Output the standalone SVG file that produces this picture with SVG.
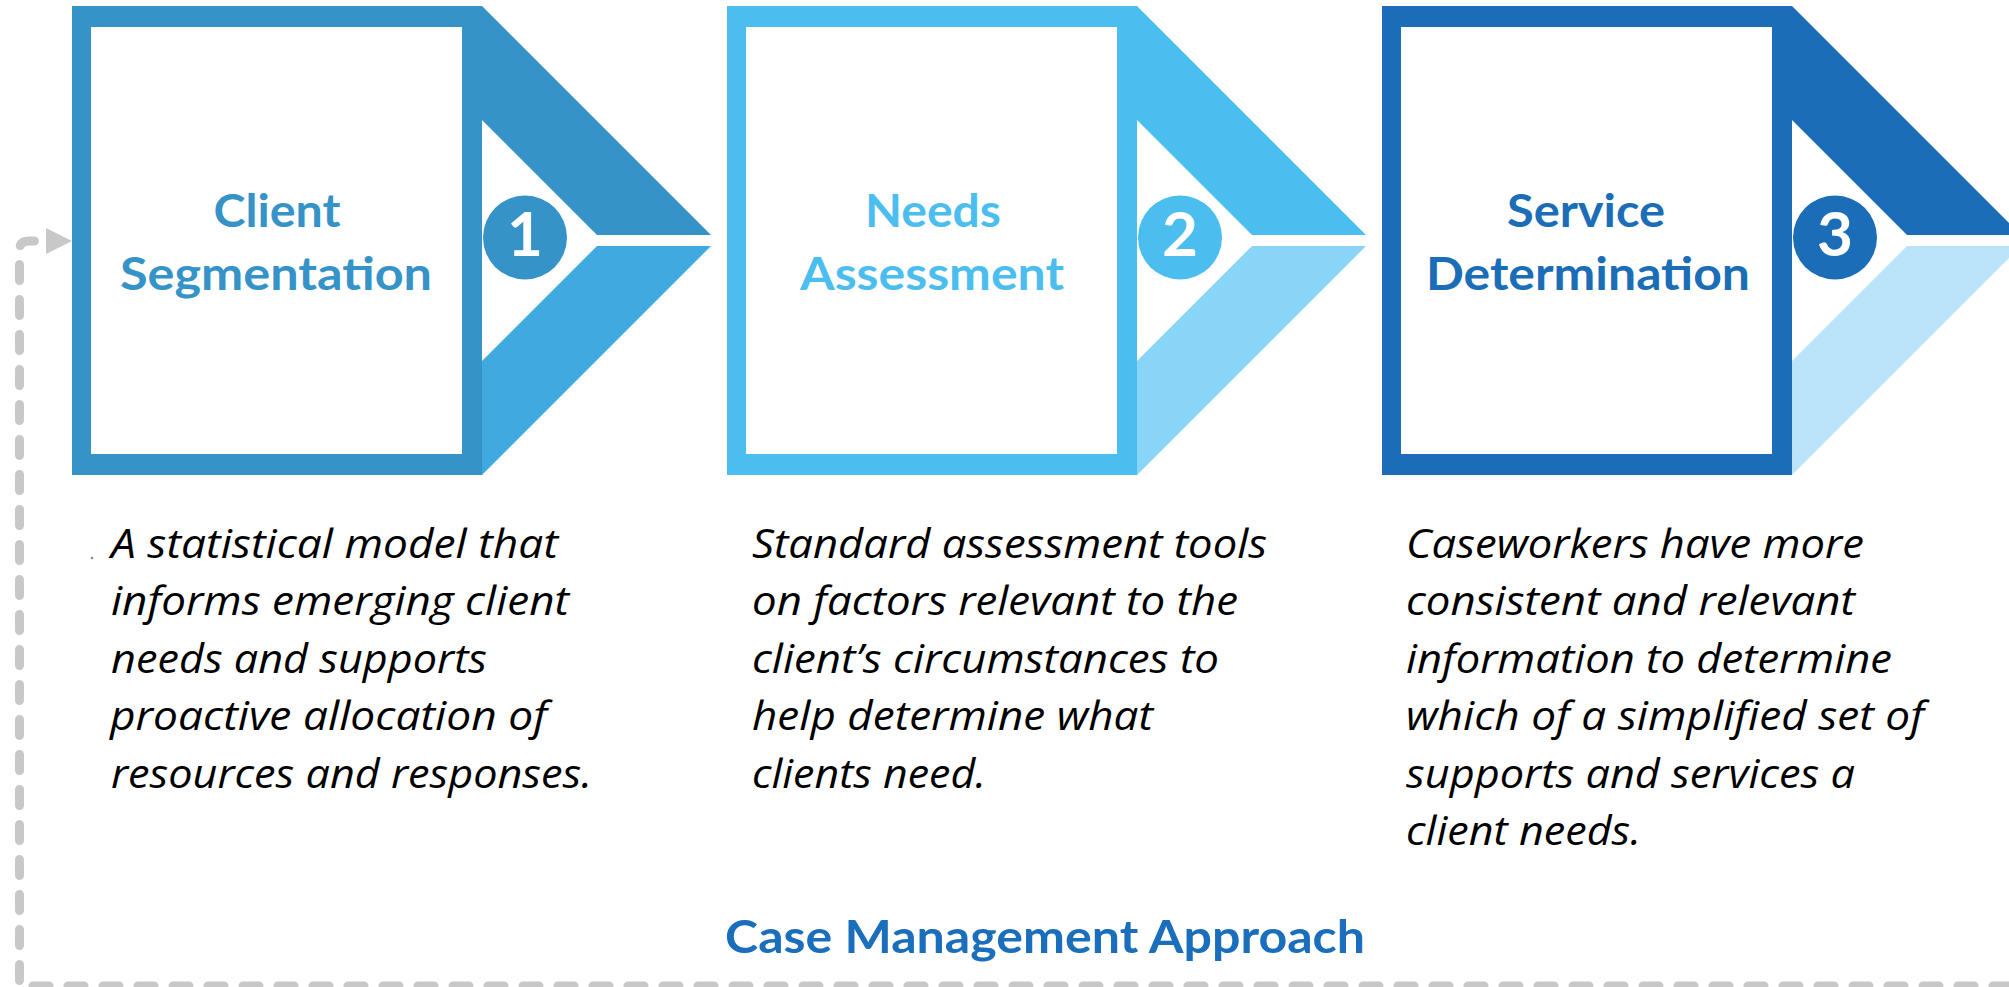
<svg xmlns="http://www.w3.org/2000/svg" width="2009" height="987" viewBox="0 0 2009 987">
  <style>
    .frame-white { fill: #ffffff; }
    .step-title { font-family: Lato, "Open Sans", "Liberation Sans", sans-serif; font-weight: 700; font-size: 45px; text-anchor: middle; }
    .num { font-family: Lato, "Open Sans", "Liberation Sans", sans-serif; font-weight: 700; font-size: 62px; fill: #ffffff; text-anchor: middle; }
    .desc { font-family: "Open Sans", "Noto Sans", "Liberation Sans", sans-serif; font-style: italic; font-size: 40px; fill: #000000; }
    .heading { font-family: Lato, "Open Sans", "Liberation Sans", sans-serif; font-weight: 700; font-size: 46px; fill: #1a6ebb; }
    .loop { fill: none; stroke: #c8c8c8; stroke-width: 9; stroke-linecap: round; stroke-linejoin: round; stroke-dasharray: 16 19; }
    .s1 { fill: #3593c8; }
    .s1-light { fill: #40a9df; }
    .s2 { fill: #4bbeef; }
    .s2-light { fill: #88d5f8; }
    .s3 { fill: #1b6db7; }
    .s3-light { fill: #b9e4fa; }
  </style>
  <defs>
    <marker id="arrow" viewBox="0 0 26 26" markerWidth="26" markerHeight="26" markerUnits="userSpaceOnUse" refX="0" refY="13" orient="auto">
      <path d="M0,0 L26,13 L0,26 Z" fill="#c8c8c8"/>
    </marker>
    <!-- chevron halves, drawn from the box's right edge (x = 0) -->
    <path id="chev-top" d="M0,6 L229,235 L115,235 L0,120 Z"/>
    <path id="chev-bottom" d="M115,246 L229,246 L0,475 L0,361 Z"/>
  </defs>

  <rect width="2009" height="987" fill="#ffffff"/>

  <!-- feedback loop back to the first step -->
  <g id="connectors">
    <path class="loop" d="M2009,986 H19.5 V250 Q19.5,241 28.5,241 H46" marker-end="url(#arrow)"/>
  </g>

  <!-- step 1 -->
  <g id="step-client-segmentation">
    <rect class="s1" x="72" y="6" width="410" height="469"/>
    <rect class="frame-white" x="91" y="27" width="371" height="427"/>
    <use href="#chev-top" class="s1" x="482"/>
    <use href="#chev-bottom" class="s1-light" x="482"/>
    <circle class="s1" cx="525" cy="237.5" r="42"/>
    <text class="num" x="525" y="256">1</text>
    <text class="step-title s1" x="277" y="227" textLength="127" lengthAdjust="spacingAndGlyphs">Client</text>
    <text class="step-title s1" x="276" y="290" textLength="312" lengthAdjust="spacingAndGlyphs">Segmentation</text>
    <circle cx="92" cy="558" r="1.3" fill="#8a8a8a"/>
    <text class="desc" x="111" y="558" textLength="447" lengthAdjust="spacingAndGlyphs">A statistical model that</text>
    <text class="desc" x="111" y="615" textLength="458" lengthAdjust="spacingAndGlyphs">informs emerging client</text>
    <text class="desc" x="111" y="673" textLength="376" lengthAdjust="spacingAndGlyphs">needs and supports</text>
    <text class="desc" x="110" y="730" textLength="437" lengthAdjust="spacingAndGlyphs">proactive allocation of</text>
    <text class="desc" x="111" y="788" textLength="481" lengthAdjust="spacingAndGlyphs">resources and responses.</text>
  </g>

  <!-- step 2 -->
  <g id="step-needs-assessment">
    <rect class="s2" x="727" y="6" width="410" height="469"/>
    <rect class="frame-white" x="746" y="27" width="371" height="427"/>
    <use href="#chev-top" class="s2" x="1137"/>
    <use href="#chev-bottom" class="s2-light" x="1137"/>
    <circle class="s2" cx="1180" cy="237.5" r="42"/>
    <text class="num" x="1180" y="256">2</text>
    <text class="step-title s2" x="933" y="227" textLength="136" lengthAdjust="spacingAndGlyphs">Needs</text>
    <text class="step-title s2" x="932" y="290" textLength="264" lengthAdjust="spacingAndGlyphs">Assessment</text>
    <text class="desc" x="752" y="558" textLength="515" lengthAdjust="spacingAndGlyphs">Standard assessment tools</text>
    <text class="desc" x="752" y="615" textLength="486" lengthAdjust="spacingAndGlyphs">on factors relevant to the</text>
    <text class="desc" x="752" y="673" textLength="467" lengthAdjust="spacingAndGlyphs">client’s circumstances to</text>
    <text class="desc" x="752" y="730" textLength="401" lengthAdjust="spacingAndGlyphs">help determine what</text>
    <text class="desc" x="752" y="788" textLength="234" lengthAdjust="spacingAndGlyphs">clients need.</text>
  </g>

  <!-- step 3 -->
  <g id="step-service-determination">
    <rect class="s3" x="1382" y="6" width="410" height="469"/>
    <rect class="frame-white" x="1401" y="27" width="371" height="427"/>
    <use href="#chev-top" class="s3" x="1792"/>
    <use href="#chev-bottom" class="s3-light" x="1792"/>
    <circle class="s3" cx="1835" cy="237.5" r="42"/>
    <text class="num" x="1835" y="256">3</text>
    <text class="step-title s3" x="1586" y="227" textLength="158" lengthAdjust="spacingAndGlyphs">Service</text>
    <text class="step-title s3" x="1588" y="290" textLength="324" lengthAdjust="spacingAndGlyphs">Determination</text>
    <text class="desc" x="1406" y="558" textLength="458" lengthAdjust="spacingAndGlyphs">Caseworkers have more</text>
    <text class="desc" x="1406" y="615" textLength="449" lengthAdjust="spacingAndGlyphs">consistent and relevant</text>
    <text class="desc" x="1406" y="673" textLength="486" lengthAdjust="spacingAndGlyphs">information to determine</text>
    <text class="desc" x="1406" y="730" textLength="518" lengthAdjust="spacingAndGlyphs">which of a simplified set of</text>
    <text class="desc" x="1406" y="788" textLength="449" lengthAdjust="spacingAndGlyphs">supports and services a</text>
    <text class="desc" x="1406" y="845" textLength="235" lengthAdjust="spacingAndGlyphs">client needs.</text>
  </g>

  <!-- heading -->
  <g id="title">
    <text class="heading" x="725" y="953" textLength="640" lengthAdjust="spacingAndGlyphs">Case Management Approach</text>
  </g>
</svg>
